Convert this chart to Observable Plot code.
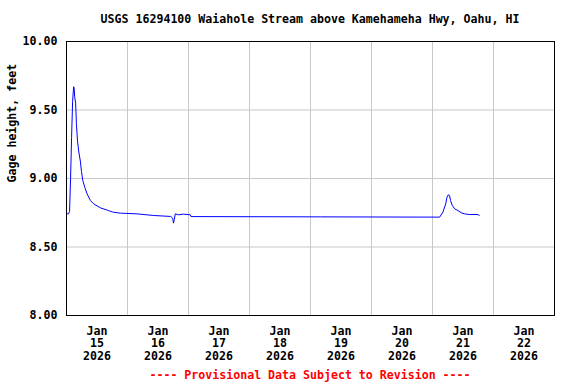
<!DOCTYPE html>
<html>
<head>
<meta charset="utf-8">
<script src="https://cdn.jsdelivr.net/npm/d3@7"></script>
<script src="https://cdn.jsdelivr.net/npm/@observablehq/plot@0.6"></script>
<style>
  html, body { margin: 0; padding: 0; background: #fff; }
  #wrap { position: relative; width: 576px; height: 384px; overflow: hidden;
          font-family: "DejaVu Sans Mono", monospace; font-weight: bold; font-size: 11.6px; }
  #title { position: absolute; left: 0; top: 12px; width: 620px; text-align: center; color: #000; }
  #foot { position: absolute; left: 0; top: 368px; width: 620px; text-align: center; color: #ff0000; }
  #chart { position: absolute; left: 0; top: 33px; }
</style>
</head>
<body>
<div id="wrap">
  <div id="title">USGS 16294100 Waiahole Stream above Kamehameha Hwy, Oahu, HI</div>
  <div id="chart"></div>
  <div id="foot">---- Provisional Data Subject to Revision ----</div>
</div>
<script>
const times = [
  "2026-01-15T00:00","2026-01-15T00:48","2026-01-15T01:12","2026-01-15T01:36","2026-01-15T02:00",
  "2026-01-15T02:24","2026-01-15T02:48","2026-01-15T03:00","2026-01-15T03:12","2026-01-15T03:36",
  "2026-01-15T03:54","2026-01-15T04:18","2026-01-15T04:48","2026-01-15T05:30","2026-01-15T05:54",
  "2026-01-15T06:24","2026-01-15T07:12","2026-01-15T08:06","2026-01-15T09:24","2026-01-15T10:42",
  "2026-01-15T13:18","2026-01-15T16:30","2026-01-15T18:24","2026-01-15T21:12","2026-01-16T03:42",
  "2026-01-16T10:18","2026-01-16T17:00","2026-01-16T17:48","2026-01-16T18:06","2026-01-16T18:24",
  "2026-01-16T18:48","2026-01-16T20:00","2026-01-16T22:00","2026-01-17T00:42","2026-01-17T01:00",
  "2026-01-19T04:00","2026-01-21T02:48","2026-01-21T04:06","2026-01-21T05:12","2026-01-21T05:42",
  "2026-01-21T06:12","2026-01-21T06:42","2026-01-21T07:06","2026-01-21T07:48","2026-01-21T08:42",
  "2026-01-21T10:00","2026-01-21T11:18","2026-01-21T12:36","2026-01-21T14:36","2026-01-21T18:00",
  "2026-01-21T18:24"
];
const values = [
  8.742, 8.742, 8.76, 9.00, 9.30,
  9.56, 9.67, 9.66, 9.60, 9.55,
  9.40, 9.28, 9.20, 9.12, 9.05,
  8.985, 8.936, 8.888, 8.839, 8.815,
  8.786, 8.766, 8.754, 8.747, 8.742,
  8.730, 8.723, 8.710, 8.674, 8.700,
  8.742, 8.735, 8.740, 8.735, 8.722,
  8.720, 8.718, 8.754, 8.815, 8.863,
  8.881, 8.876, 8.839, 8.803, 8.779,
  8.766, 8.750, 8.742, 8.737, 8.737,
  8.728
];
const yTicks = [8.0, 8.5, 9.0, 9.5, 10.0];
const gridDays = ["2026-01-16","2026-01-17","2026-01-18","2026-01-19","2026-01-20","2026-01-21","2026-01-22"];
const labelDays = ["2026-01-15","2026-01-16","2026-01-17","2026-01-18","2026-01-19","2026-01-20","2026-01-21","2026-01-22"];
const xDomain = ["2026-01-15","2026-01-23"];
const yLabel = "Gage height, feet";

const data = times.map((t, i) => ({date: new Date(t + ":00Z"), value: values[i]}));
const gridDates = gridDays.map(d => new Date(d + "T00:00:00Z"));
const labelDates = labelDays.map(d => new Date(d + "T12:00:00Z"));
const months = ["Jan","Feb","Mar","Apr","May","Jun","Jul","Aug","Sep","Oct","Nov","Dec"];

const chart = Plot.plot({
  width: 576,
  height: 333,
  marginTop: 8,
  marginBottom: 51,
  marginLeft: 66,
  marginRight: 22,
  style: {fontFamily: "DejaVu Sans Mono, monospace", fontWeight: "bold", fontSize: "11.6px", color: "#000", background: "#fff"},
  x: {type: "utc", domain: xDomain.map(d => new Date(d + "T00:00:00Z"))},
  y: {domain: [8, 10]},
  marks: [
    Plot.gridX(gridDates, {stroke: "#c8c8c8", strokeOpacity: 1}),
    Plot.gridY(yTicks, {stroke: "#c8c8c8", strokeOpacity: 1}),
    Plot.line(data, {x: "date", y: "value", stroke: "#0000ff", strokeWidth: 1}),
    Plot.frame({stroke: "#000", strokeWidth: 1}),
    Plot.axisY(yTicks, {tickSize: 0, tickPadding: 9, tickFormat: d => d.toFixed(2), label: null, fill: "#000"}),
    Plot.axisX(labelDates, {tickSize: 0, tickPadding: 10, lineHeight: 1.1, label: null, fill: "#000",
      tickFormat: d => `${months[d.getUTCMonth()]}\n${d.getUTCDate()}\n${d.getUTCFullYear()}`}),
    Plot.text([yLabel], {frameAnchor: "left", rotate: -90, dx: -54, dy: 4, fill: "#000"})
  ]
});
document.getElementById("chart").appendChild(chart);
</script>
</body>
</html>
